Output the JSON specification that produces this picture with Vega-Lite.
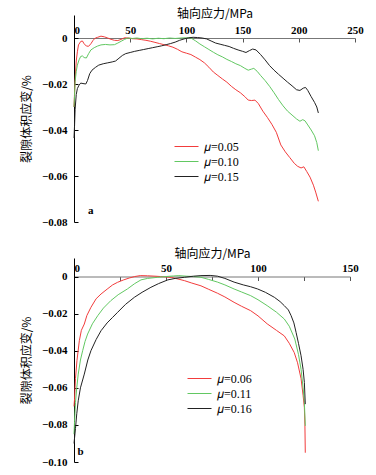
{
  "$schema": "https://vega.github.io/schema/vega-lite/v6.json",
  "background": "white",
  "padding": {"left": 20, "top": 7, "right": 5, "bottom": 5},
  "spacing": 20,
  "config": {
    "view": {"stroke": null},
    "font": "Liberation Serif",
    "axis": {
      "grid": false,
      "labelFont": "Liberation Serif",
      "labelFontWeight": "bold",
      "labelFontSize": 11,
      "labelColor": "#000",
      "titleFont": "Noto Sans CJK SC",
      "titleFontSize": 12,
      "titleFontWeight": "normal",
      "titleColor": "#000",
      "tickColor": "#000",
      "domainColor": "#000"
    },
    "legend": {
      "title": null,
      "orient": "none",
      "symbolType": "M-2,0H2",
      "symbolSize": 144,
      "symbolStrokeWidth": 1,
      "labelFont": "Liberation Serif",
      "labelFontSize": 12,
      "labelColor": "#000",
      "labelOffset": 11,
      "rowPadding": 2,
      "padding": 0
    }
  },
  "resolve": {"scale": {"color": "independent"}},
  "datasets": {
    "a": [
      {"m":"𝜇=0.05","x":0,"y":-0.030},{"m":"𝜇=0.05","x":0.5,"y":-0.024},{"m":"𝜇=0.05","x":1,"y":-0.018},{"m":"𝜇=0.05","x":2,"y":-0.010},{"m":"𝜇=0.05","x":3,"y":-0.006},{"m":"𝜇=0.05","x":4,"y":-0.003},{"m":"𝜇=0.05","x":6,"y":-0.0015},{"m":"𝜇=0.05","x":7.5,"y":-0.0013},{"m":"𝜇=0.05","x":9,"y":-0.0025},{"m":"𝜇=0.05","x":11,"y":-0.0035},{"m":"𝜇=0.05","x":13,"y":-0.0036},{"m":"𝜇=0.05","x":15,"y":-0.0025},{"m":"𝜇=0.05","x":17,"y":-0.001},{"m":"𝜇=0.05","x":19,"y":0},{"m":"𝜇=0.05","x":21,"y":0.0003},{"m":"𝜇=0.05","x":24,"y":0.0008},{"m":"𝜇=0.05","x":27,"y":0.0005},{"m":"𝜇=0.05","x":30,"y":0},{"m":"𝜇=0.05","x":33,"y":-0.0006},{"m":"𝜇=0.05","x":36,"y":-0.001},{"m":"𝜇=0.05","x":39,"y":-0.0011},{"m":"𝜇=0.05","x":42,"y":-0.0006},{"m":"𝜇=0.05","x":45,"y":0.0001},{"m":"𝜇=0.05","x":48,"y":0},{"m":"𝜇=0.05","x":52,"y":-0.0003},{"m":"𝜇=0.05","x":56,"y":-0.0004},{"m":"𝜇=0.05","x":60,"y":-0.0007},{"m":"𝜇=0.05","x":64,"y":-0.001},{"m":"𝜇=0.05","x":68,"y":-0.0014},{"m":"𝜇=0.05","x":72,"y":-0.0019},{"m":"𝜇=0.05","x":76,"y":-0.0024},{"m":"𝜇=0.05","x":80,"y":-0.0029},{"m":"𝜇=0.05","x":84,"y":-0.0034},{"m":"𝜇=0.05","x":88,"y":-0.004},{"m":"𝜇=0.05","x":92,"y":-0.0049},{"m":"𝜇=0.05","x":96,"y":-0.006},{"m":"𝜇=0.05","x":100,"y":-0.0066},{"m":"𝜇=0.05","x":104,"y":-0.0072},{"m":"𝜇=0.05","x":108,"y":-0.0083},{"m":"𝜇=0.05","x":112,"y":-0.0094},{"m":"𝜇=0.05","x":116,"y":-0.0108},{"m":"𝜇=0.05","x":120,"y":-0.0127},{"m":"𝜇=0.05","x":124,"y":-0.0148},{"m":"𝜇=0.05","x":128,"y":-0.0163},{"m":"𝜇=0.05","x":132,"y":-0.0178},{"m":"𝜇=0.05","x":136,"y":-0.0192},{"m":"𝜇=0.05","x":140,"y":-0.021},{"m":"𝜇=0.05","x":144,"y":-0.0225},{"m":"𝜇=0.05","x":148,"y":-0.0238},{"m":"𝜇=0.05","x":152,"y":-0.0255},{"m":"𝜇=0.05","x":155,"y":-0.027},{"m":"𝜇=0.05","x":158,"y":-0.0272},{"m":"𝜇=0.05","x":161,"y":-0.027},{"m":"𝜇=0.05","x":164,"y":-0.0285},{"m":"𝜇=0.05","x":168,"y":-0.0318},{"m":"𝜇=0.05","x":172,"y":-0.0345},{"m":"𝜇=0.05","x":176,"y":-0.0375},{"m":"𝜇=0.05","x":180,"y":-0.041},{"m":"𝜇=0.05","x":184,"y":-0.0465},{"m":"𝜇=0.05","x":188,"y":-0.0495},{"m":"𝜇=0.05","x":192,"y":-0.052},{"m":"𝜇=0.05","x":196,"y":-0.0545},{"m":"𝜇=0.05","x":199,"y":-0.0558},{"m":"𝜇=0.05","x":202,"y":-0.0565},{"m":"𝜇=0.05","x":204.5,"y":-0.056},{"m":"𝜇=0.05","x":207,"y":-0.058},{"m":"𝜇=0.05","x":210,"y":-0.0605},{"m":"𝜇=0.05","x":213,"y":-0.064},{"m":"𝜇=0.05","x":215,"y":-0.067},{"m":"𝜇=0.05","x":217.4,"y":-0.071},
      {"m":"𝜇=0.10","x":0,"y":-0.030},{"m":"𝜇=0.10","x":0.5,"y":-0.025},{"m":"𝜇=0.10","x":1,"y":-0.019},{"m":"𝜇=0.10","x":2,"y":-0.0145},{"m":"𝜇=0.10","x":3,"y":-0.0118},{"m":"𝜇=0.10","x":4.5,"y":-0.0095},{"m":"𝜇=0.10","x":6,"y":-0.008},{"m":"𝜇=0.10","x":7.5,"y":-0.0078},{"m":"𝜇=0.10","x":9,"y":-0.0085},{"m":"𝜇=0.10","x":11,"y":-0.0087},{"m":"𝜇=0.10","x":13,"y":-0.0068},{"m":"𝜇=0.10","x":15,"y":-0.0052},{"m":"𝜇=0.10","x":18,"y":-0.0042},{"m":"𝜇=0.10","x":21,"y":-0.0035},{"m":"𝜇=0.10","x":24,"y":-0.003},{"m":"𝜇=0.10","x":28,"y":-0.0028},{"m":"𝜇=0.10","x":32,"y":-0.003},{"m":"𝜇=0.10","x":36,"y":-0.0029},{"m":"𝜇=0.10","x":39,"y":-0.0022},{"m":"𝜇=0.10","x":42,"y":-0.0014},{"m":"𝜇=0.10","x":45,"y":-0.0006},{"m":"𝜇=0.10","x":48,"y":0},{"m":"𝜇=0.10","x":52,"y":-0.0002},{"m":"𝜇=0.10","x":56,"y":0},{"m":"𝜇=0.10","x":60,"y":-0.0003},{"m":"𝜇=0.10","x":65,"y":-0.0001},{"m":"𝜇=0.10","x":70,"y":-0.0004},{"m":"𝜇=0.10","x":75,"y":-0.0001},{"m":"𝜇=0.10","x":80,"y":-0.0003},{"m":"𝜇=0.10","x":85,"y":0},{"m":"𝜇=0.10","x":90,"y":-0.0002},{"m":"𝜇=0.10","x":95,"y":0},{"m":"𝜇=0.10","x":100,"y":0.0001},{"m":"𝜇=0.10","x":104,"y":0},{"m":"𝜇=0.10","x":108,"y":-0.0012},{"m":"𝜇=0.10","x":112,"y":-0.0026},{"m":"𝜇=0.10","x":116,"y":-0.0038},{"m":"𝜇=0.10","x":120,"y":-0.005},{"m":"𝜇=0.10","x":124,"y":-0.0062},{"m":"𝜇=0.10","x":128,"y":-0.0073},{"m":"𝜇=0.10","x":132,"y":-0.0082},{"m":"𝜇=0.10","x":136,"y":-0.0093},{"m":"𝜇=0.10","x":140,"y":-0.0102},{"m":"𝜇=0.10","x":144,"y":-0.0112},{"m":"𝜇=0.10","x":148,"y":-0.012},{"m":"𝜇=0.10","x":152,"y":-0.0132},{"m":"𝜇=0.10","x":155,"y":-0.014},{"m":"𝜇=0.10","x":158,"y":-0.0135},{"m":"𝜇=0.10","x":160,"y":-0.0132},{"m":"𝜇=0.10","x":163,"y":-0.0145},{"m":"𝜇=0.10","x":166,"y":-0.0163},{"m":"𝜇=0.10","x":170,"y":-0.0185},{"m":"𝜇=0.10","x":174,"y":-0.021},{"m":"𝜇=0.10","x":178,"y":-0.0238},{"m":"𝜇=0.10","x":182,"y":-0.0268},{"m":"𝜇=0.10","x":186,"y":-0.0295},{"m":"𝜇=0.10","x":190,"y":-0.0318},{"m":"𝜇=0.10","x":194,"y":-0.0335},{"m":"𝜇=0.10","x":198,"y":-0.0352},{"m":"𝜇=0.10","x":201,"y":-0.0362},{"m":"𝜇=0.10","x":203.5,"y":-0.0355},{"m":"𝜇=0.10","x":205.5,"y":-0.036},{"m":"𝜇=0.10","x":208,"y":-0.0378},{"m":"𝜇=0.10","x":211,"y":-0.04},{"m":"𝜇=0.10","x":214,"y":-0.0425},{"m":"𝜇=0.10","x":216,"y":-0.0455},{"m":"𝜇=0.10","x":217.4,"y":-0.049},
      {"m":"𝜇=0.15","x":0,"y":-0.0435},{"m":"𝜇=0.15","x":0.5,"y":-0.038},{"m":"𝜇=0.15","x":1,"y":-0.031},{"m":"𝜇=0.15","x":2,"y":-0.0246},{"m":"𝜇=0.15","x":3,"y":-0.022},{"m":"𝜇=0.15","x":4.5,"y":-0.0205},{"m":"𝜇=0.15","x":6,"y":-0.0196},{"m":"𝜇=0.15","x":8,"y":-0.0198},{"m":"𝜇=0.15","x":10.5,"y":-0.02},{"m":"𝜇=0.15","x":12,"y":-0.0185},{"m":"𝜇=0.15","x":14,"y":-0.0155},{"m":"𝜇=0.15","x":16,"y":-0.014},{"m":"𝜇=0.15","x":19,"y":-0.0128},{"m":"𝜇=0.15","x":22,"y":-0.0118},{"m":"𝜇=0.15","x":26,"y":-0.0112},{"m":"𝜇=0.15","x":30,"y":-0.0108},{"m":"𝜇=0.15","x":34,"y":-0.0104},{"m":"𝜇=0.15","x":37,"y":-0.01},{"m":"𝜇=0.15","x":40,"y":-0.0088},{"m":"𝜇=0.15","x":43,"y":-0.0076},{"m":"𝜇=0.15","x":46,"y":-0.0068},{"m":"𝜇=0.15","x":50,"y":-0.0063},{"m":"𝜇=0.15","x":54,"y":-0.0058},{"m":"𝜇=0.15","x":58,"y":-0.0054},{"m":"𝜇=0.15","x":62,"y":-0.005},{"m":"𝜇=0.15","x":66,"y":-0.0046},{"m":"𝜇=0.15","x":70,"y":-0.0042},{"m":"𝜇=0.15","x":74,"y":-0.0038},{"m":"𝜇=0.15","x":78,"y":-0.0034},{"m":"𝜇=0.15","x":82,"y":-0.0029},{"m":"𝜇=0.15","x":86,"y":-0.0024},{"m":"𝜇=0.15","x":90,"y":-0.0018},{"m":"𝜇=0.15","x":94,"y":-0.001},{"m":"𝜇=0.15","x":98,"y":-0.0004},{"m":"𝜇=0.15","x":102,"y":0.0001},{"m":"𝜇=0.15","x":106,"y":0.0003},{"m":"𝜇=0.15","x":110,"y":0.0002},{"m":"𝜇=0.15","x":114,"y":0},{"m":"𝜇=0.15","x":118,"y":-0.0004},{"m":"𝜇=0.15","x":122,"y":-0.0013},{"m":"𝜇=0.15","x":126,"y":-0.0022},{"m":"𝜇=0.15","x":130,"y":-0.0027},{"m":"𝜇=0.15","x":134,"y":-0.0032},{"m":"𝜇=0.15","x":138,"y":-0.0037},{"m":"𝜇=0.15","x":142,"y":-0.0045},{"m":"𝜇=0.15","x":146,"y":-0.0052},{"m":"𝜇=0.15","x":150,"y":-0.0058},{"m":"𝜇=0.15","x":153,"y":-0.0063},{"m":"𝜇=0.15","x":156,"y":-0.0055},{"m":"𝜇=0.15","x":159,"y":-0.0048},{"m":"𝜇=0.15","x":162,"y":-0.0052},{"m":"𝜇=0.15","x":166,"y":-0.0072},{"m":"𝜇=0.15","x":170,"y":-0.0095},{"m":"𝜇=0.15","x":174,"y":-0.012},{"m":"𝜇=0.15","x":178,"y":-0.014},{"m":"𝜇=0.15","x":182,"y":-0.0158},{"m":"𝜇=0.15","x":186,"y":-0.0175},{"m":"𝜇=0.15","x":190,"y":-0.0192},{"m":"𝜇=0.15","x":194,"y":-0.0208},{"m":"𝜇=0.15","x":198,"y":-0.0225},{"m":"𝜇=0.15","x":201,"y":-0.0228},{"m":"𝜇=0.15","x":204,"y":-0.0218},{"m":"𝜇=0.15","x":206,"y":-0.0215},{"m":"𝜇=0.15","x":208,"y":-0.0228},{"m":"𝜇=0.15","x":211,"y":-0.0255},{"m":"𝜇=0.15","x":214,"y":-0.028},{"m":"𝜇=0.15","x":216,"y":-0.03},{"m":"𝜇=0.15","x":217.4,"y":-0.0326}
    ],
    "b": [
      {"m":"𝜇=0.06","x":0,"y":-0.07},{"m":"𝜇=0.06","x":0.3,"y":-0.066},{"m":"𝜇=0.06","x":0.8,"y":-0.055},{"m":"𝜇=0.06","x":1.6,"y":-0.0454},{"m":"𝜇=0.06","x":2.9,"y":-0.0346},{"m":"𝜇=0.06","x":4,"y":-0.029},{"m":"𝜇=0.06","x":5.6,"y":-0.0256},{"m":"𝜇=0.06","x":7,"y":-0.021},{"m":"𝜇=0.06","x":9.2,"y":-0.0166},{"m":"𝜇=0.06","x":12,"y":-0.012},{"m":"𝜇=0.06","x":14.7,"y":-0.0094},{"m":"𝜇=0.06","x":18,"y":-0.0068},{"m":"𝜇=0.06","x":21,"y":-0.0045},{"m":"𝜇=0.06","x":23.7,"y":-0.0031},{"m":"𝜇=0.06","x":27,"y":-0.0018},{"m":"𝜇=0.06","x":30,"y":-0.0008},{"m":"𝜇=0.06","x":33,"y":0},{"m":"𝜇=0.06","x":36,"y":0.0005},{"m":"𝜇=0.06","x":40,"y":0.0004},{"m":"𝜇=0.06","x":44,"y":0.0002},{"m":"𝜇=0.06","x":47,"y":0},{"m":"𝜇=0.06","x":50,"y":-0.0002},{"m":"𝜇=0.06","x":53,"y":-0.0005},{"m":"𝜇=0.06","x":56,"y":-0.0012},{"m":"𝜇=0.06","x":60,"y":-0.0022},{"m":"𝜇=0.06","x":64,"y":-0.0035},{"m":"𝜇=0.06","x":69,"y":-0.005},{"m":"𝜇=0.06","x":73,"y":-0.0068},{"m":"𝜇=0.06","x":78,"y":-0.009},{"m":"𝜇=0.06","x":82,"y":-0.011},{"m":"𝜇=0.06","x":87,"y":-0.0139},{"m":"𝜇=0.06","x":91,"y":-0.016},{"m":"𝜇=0.06","x":96,"y":-0.0184},{"m":"𝜇=0.06","x":100,"y":-0.0212},{"m":"𝜇=0.06","x":105,"y":-0.0255},{"m":"𝜇=0.06","x":110,"y":-0.029},{"m":"𝜇=0.06","x":114.3,"y":-0.032},{"m":"𝜇=0.06","x":117,"y":-0.036},{"m":"𝜇=0.06","x":119.7,"y":-0.041},{"m":"𝜇=0.06","x":121.5,"y":-0.0465},{"m":"𝜇=0.06","x":123.4,"y":-0.055},{"m":"𝜇=0.06","x":124.5,"y":-0.064},{"m":"𝜇=0.06","x":125.2,"y":-0.0706},{"m":"𝜇=0.06","x":125.5,"y":-0.08},{"m":"𝜇=0.06","x":125.7,"y":-0.095},
      {"m":"𝜇=0.11","x":0,"y":-0.085},{"m":"𝜇=0.11","x":0.3,"y":-0.078},{"m":"𝜇=0.11","x":0.8,"y":-0.068},{"m":"𝜇=0.11","x":1.5,"y":-0.06},{"m":"𝜇=0.11","x":2.3,"y":-0.0526},{"m":"𝜇=0.11","x":3.5,"y":-0.045},{"m":"𝜇=0.11","x":4.7,"y":-0.04},{"m":"𝜇=0.11","x":6,"y":-0.035},{"m":"𝜇=0.11","x":7.4,"y":-0.031},{"m":"𝜇=0.11","x":10,"y":-0.0255},{"m":"𝜇=0.11","x":12.9,"y":-0.0211},{"m":"𝜇=0.11","x":16,"y":-0.017},{"m":"𝜇=0.11","x":20,"y":-0.013},{"m":"𝜇=0.11","x":24,"y":-0.0098},{"m":"𝜇=0.11","x":29,"y":-0.0067},{"m":"𝜇=0.11","x":33,"y":-0.0038},{"m":"𝜇=0.11","x":36.4,"y":-0.0018},{"m":"𝜇=0.11","x":40,"y":-0.001},{"m":"𝜇=0.11","x":45.5,"y":-0.0004},{"m":"𝜇=0.11","x":50,"y":0},{"m":"𝜇=0.11","x":54,"y":0.0003},{"m":"𝜇=0.11","x":57,"y":0.0005},{"m":"𝜇=0.11","x":61,"y":0.0002},{"m":"𝜇=0.11","x":65,"y":0},{"m":"𝜇=0.11","x":69,"y":-0.0004},{"m":"𝜇=0.11","x":73,"y":-0.0015},{"m":"𝜇=0.11","x":78,"y":-0.003},{"m":"𝜇=0.11","x":82,"y":-0.0045},{"m":"𝜇=0.11","x":87,"y":-0.0067},{"m":"𝜇=0.11","x":91,"y":-0.0083},{"m":"𝜇=0.11","x":96,"y":-0.0103},{"m":"𝜇=0.11","x":100,"y":-0.0125},{"m":"𝜇=0.11","x":105,"y":-0.0157},{"m":"𝜇=0.11","x":110,"y":-0.0192},{"m":"𝜇=0.11","x":114.3,"y":-0.0229},{"m":"𝜇=0.11","x":117,"y":-0.0268},{"m":"𝜇=0.11","x":120,"y":-0.0337},{"m":"𝜇=0.11","x":122,"y":-0.042},{"m":"𝜇=0.11","x":123.4,"y":-0.05},{"m":"𝜇=0.11","x":124.5,"y":-0.06},{"m":"𝜇=0.11","x":125.2,"y":-0.068},{"m":"𝜇=0.11","x":125.7,"y":-0.0805},
      {"m":"𝜇=0.16","x":0,"y":-0.09},{"m":"𝜇=0.16","x":0.3,"y":-0.087},{"m":"𝜇=0.16","x":0.8,"y":-0.082},{"m":"𝜇=0.16","x":1.5,"y":-0.074},{"m":"𝜇=0.16","x":2.3,"y":-0.067},{"m":"𝜇=0.16","x":3.5,"y":-0.06},{"m":"𝜇=0.16","x":5.6,"y":-0.0526},{"m":"𝜇=0.16","x":7.5,"y":-0.045},{"m":"𝜇=0.16","x":9.2,"y":-0.04},{"m":"𝜇=0.16","x":12,"y":-0.034},{"m":"𝜇=0.16","x":14.7,"y":-0.0292},{"m":"𝜇=0.16","x":18,"y":-0.025},{"m":"𝜇=0.16","x":21,"y":-0.022},{"m":"𝜇=0.16","x":23.7,"y":-0.0193},{"m":"𝜇=0.16","x":28,"y":-0.015},{"m":"𝜇=0.16","x":32.8,"y":-0.0112},{"m":"𝜇=0.16","x":37,"y":-0.0085},{"m":"𝜇=0.16","x":41.8,"y":-0.0058},{"m":"𝜇=0.16","x":46,"y":-0.0038},{"m":"𝜇=0.16","x":51,"y":-0.0018},{"m":"𝜇=0.16","x":55,"y":-0.001},{"m":"𝜇=0.16","x":60,"y":-0.0004},{"m":"𝜇=0.16","x":65,"y":0.0002},{"m":"𝜇=0.16","x":69,"y":0.0005},{"m":"𝜇=0.16","x":74,"y":0.0006},{"m":"𝜇=0.16","x":78,"y":0.0002},{"m":"𝜇=0.16","x":82,"y":-0.001},{"m":"𝜇=0.16","x":87,"y":-0.003},{"m":"𝜇=0.16","x":92,"y":-0.0045},{"m":"𝜇=0.16","x":96,"y":-0.0055},{"m":"𝜇=0.16","x":99.8,"y":-0.0067},{"m":"𝜇=0.16","x":104,"y":-0.0085},{"m":"𝜇=0.16","x":108.9,"y":-0.0112},{"m":"𝜇=0.16","x":112,"y":-0.0135},{"m":"𝜇=0.16","x":114.3,"y":-0.0157},{"m":"𝜇=0.16","x":116.5,"y":-0.018},{"m":"𝜇=0.16","x":118,"y":-0.0211},{"m":"𝜇=0.16","x":119.5,"y":-0.025},{"m":"𝜇=0.16","x":120.7,"y":-0.0301},{"m":"𝜇=0.16","x":122,"y":-0.036},{"m":"𝜇=0.16","x":123.4,"y":-0.0427},{"m":"𝜇=0.16","x":124.5,"y":-0.05},{"m":"𝜇=0.16","x":125.2,"y":-0.0571},{"m":"𝜇=0.16","x":125.7,"y":-0.0688}
    ]
  },
  "vconcat": [
    {
      "width": 281,
      "height": 207,
      "layer": [
        {
          "data": {"name": "a"},
          "mark": {"type": "line", "strokeWidth": 1},
          "encoding": {
            "x": {
              "field": "x", "type": "quantitative",
              "scale": {"domain": [0, 250], "nice": false, "zero": false},
              "axis": {
                "orient": "top", "offset": -23, "title": "轴向应力/MPa",
                "values": [0, 25, 50, 75, 100, 125, 150, 175, 200, 225, 250],
                "labelExpr": "datum.value % 50 == 0 ? datum.label : ''",
                "labelAlign": {"condition": {"test": "datum.value == 0", "value": "left"}, "value": "center"},
                "labelFont": "Liberation Serif", "labelFontWeight": "bold", "labelFontSize": 11, "labelColor": "#000",
                "titleFont": "Noto Sans CJK SC", "titleFontSize": 12, "titleFontWeight": "normal", "titleColor": "#000",
                "tickSize": -4, "labelPadding": 7, "titlePadding": 4,
                "domainColor": "#777", "tickColor": "#555"
              }
            },
            "y": {
              "field": "y", "type": "quantitative",
              "scale": {"domain": [-0.08, 0.01], "nice": false, "zero": false},
              "axis": {
                "title": "裂隙体积应变/%",
                "values": [-0.08, -0.07, -0.06, -0.05, -0.04, -0.03, -0.02, -0.01, 0, 0.01],
                "labelExpr": "datum.value == 0 ? '0' : (abs(round(datum.value * 100)) % 2 == 0 ? format(datum.value, '.2f') : '')",
                "labelFont": "Liberation Serif", "labelFontWeight": "bold", "labelFontSize": 11, "labelColor": "#000",
                "titleFont": "Noto Sans CJK SC", "titleFontSize": 12, "titleFontWeight": "normal", "titleColor": "#000",
                "tickSize": -4, "labelPadding": 11, "titlePadding": 8
              }
            },
            "color": {
              "field": "m", "type": "nominal",
              "scale": {"domain": ["𝜇=0.05", "𝜇=0.10", "𝜇=0.15"], "range": ["#f23c3c", "#62c862", "#222222"]},
              "legend": {"legendX": 106, "legendY": 125, "labelFont": "Liberation Serif"}
            }
          }
        },
        {
          "data": {"values": [{"t": "a"}]},
          "mark": {"type": "text", "font": "Liberation Serif", "fontWeight": "bold", "fontSize": 11, "color": "#000"},
          "encoding": {
            "x": {"datum": 15, "type": "quantitative"},
            "y": {"datum": -0.075, "type": "quantitative"},
            "text": {"field": "t"}
          }
        }
      ]
    },
    {
      "width": 276,
      "height": 204,
      "layer": [
        {
          "data": {"name": "b"},
          "mark": {"type": "line", "strokeWidth": 1},
          "encoding": {
            "x": {
              "field": "x", "type": "quantitative",
              "scale": {"domain": [0, 150], "nice": false, "zero": false},
              "axis": {
                "orient": "top", "offset": -18.5, "title": "轴向应力/MPa",
                "values": [0, 25, 50, 75, 100, 125, 150],
                "labelExpr": "datum.value % 50 == 0 ? datum.label : ''",
                "labelAlign": {"condition": {"test": "datum.value == 0", "value": "left"}, "value": "center"},
                "labelFont": "Liberation Serif", "labelFontWeight": "bold", "labelFontSize": 11, "labelColor": "#000",
                "titleFont": "Noto Sans CJK SC", "titleFontSize": 12, "titleFontWeight": "normal", "titleColor": "#000",
                "tickSize": -4, "labelPadding": 7, "titlePadding": 2,
                "domainColor": "#777", "tickColor": "#555"
              }
            },
            "y": {
              "field": "y", "type": "quantitative",
              "scale": {"domain": [-0.1, 0.01], "nice": false, "zero": false},
              "axis": {
                "title": "裂隙体积应变/%",
                "values": [-0.1, -0.09, -0.08, -0.07, -0.06, -0.05, -0.04, -0.03, -0.02, -0.01, 0, 0.01],
                "labelExpr": "datum.value == 0 ? '0' : (abs(round(datum.value * 100)) % 2 == 0 ? format(datum.value, '.2f') : '')",
                "labelFont": "Liberation Serif", "labelFontWeight": "bold", "labelFontSize": 11, "labelColor": "#000",
                "titleFont": "Noto Sans CJK SC", "titleFontSize": 12, "titleFontWeight": "normal", "titleColor": "#000",
                "tickSize": -4, "labelPadding": 11, "titlePadding": 8
              }
            },
            "color": {
              "field": "m", "type": "nominal",
              "scale": {"domain": ["𝜇=0.06", "𝜇=0.11", "𝜇=0.16"], "range": ["#f23c3c", "#62c862", "#222222"]},
              "legend": {"legendX": 119, "legendY": 114, "labelFont": "Liberation Serif"}
            }
          }
        },
        {
          "data": {"values": [{"t": "b"}]},
          "mark": {"type": "text", "font": "Liberation Serif", "fontWeight": "bold", "fontSize": 11, "color": "#000"},
          "encoding": {
            "x": {"datum": 3.5, "type": "quantitative"},
            "y": {"datum": -0.0946, "type": "quantitative"},
            "text": {"field": "t"}
          }
        }
      ]
    }
  ]
}
